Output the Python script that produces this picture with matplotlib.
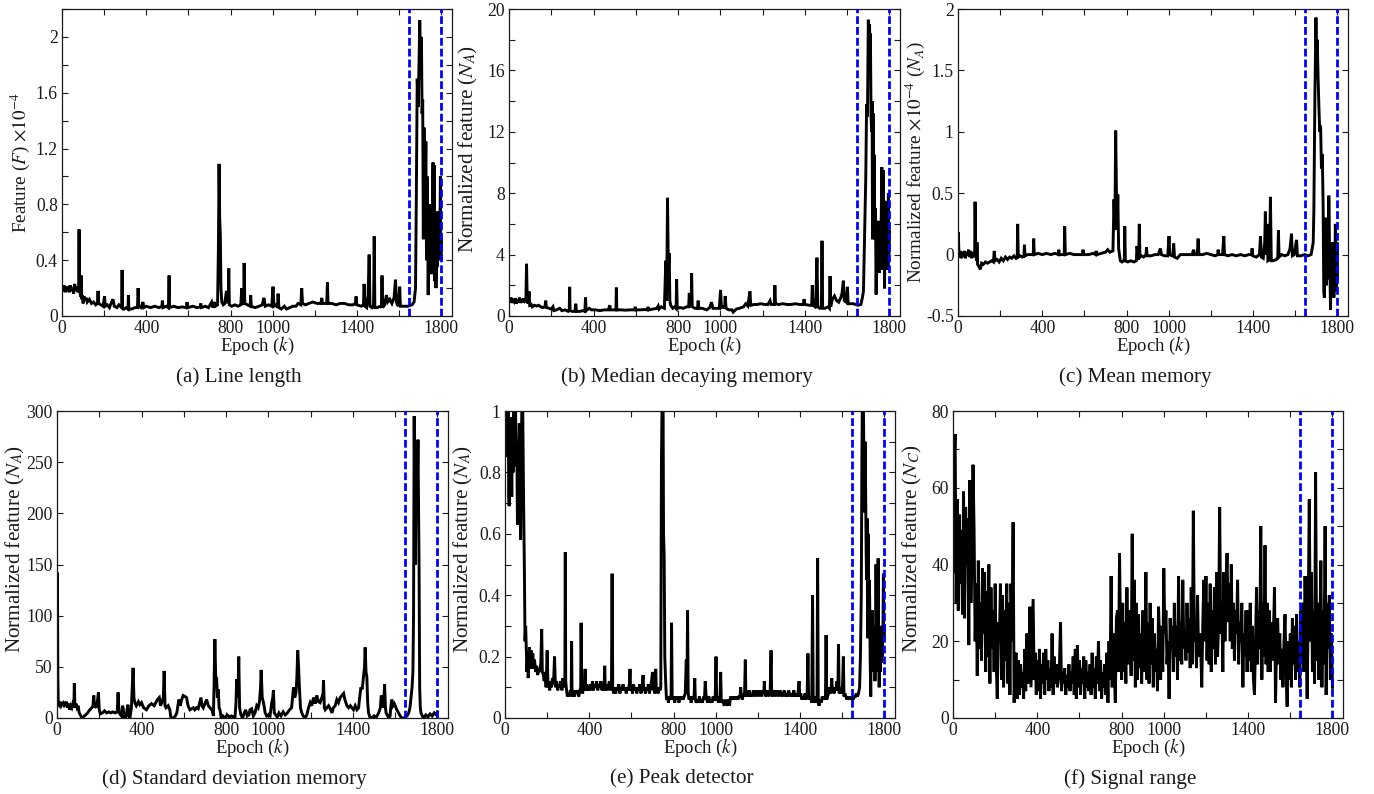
import numpy as np
import matplotlib
matplotlib.use("Agg")
import matplotlib.pyplot as plt

plt.rcParams['font.family'] = ['Liberation Serif', 'DejaVu Serif']
plt.rcParams['mathtext.fontset'] = 'stix'

# ---------------- data (epoch, value) ----------------
onset_epochs = [1645, 1800]

line_length = [
 (0,0.21),(5,0.18),(10,0.22),(15,0.17),(20,0.21),(25,0.19),(30,0.2),(35,0.17),(40,0.22),(45,0.18),
 (50,0.2),(55,0.16),(60,0.23),(65,0.18),(70,0.21),(75,0.17),(79,0.2),(81,0.62),(83,0.2),(88,0.14),
 (91,0.29),(93,0.12),(97,0.15),(100,0.09),(105,0.14),(110,0.11),(115,0.13),(120,0.1),(130,0.12),(140,0.09),
 (150,0.1),(160,0.08),(168,0.09),(171,0.18),(174,0.09),(185,0.08),(195,0.07),(202,0.14),(205,0.07),(215,0.08),
 (225,0.06),(235,0.1),(242,0.12),(248,0.07),(260,0.06),(270,0.08),(283,0.06),(285,0.33),(287,0.06),(295,0.05),
 (305,0.06),(313,0.05),(315,0.15),(317,0.05),(330,0.05),(345,0.06),(358,0.06),(361,0.2),(364,0.07),(375,0.06),
 (384,0.1),(388,0.06),(400,0.07),(420,0.06),(440,0.07),(460,0.06),(474,0.07),(476,0.11),(479,0.06),(495,0.07),
 (505,0.06),(508,0.29),(510,0.06),(530,0.07),(550,0.06),(570,0.065),(591,0.06),(593,0.1),(596,0.06),(620,0.07),
 (640,0.06),(656,0.065),(658,0.09),(661,0.06),(680,0.07),(695,0.06),(710,0.1),(716,0.06),(722,0.1),(728,0.07),
 (738,0.08),(742,0.5),(745,1.09),(748,0.7),(751,0.58),(754,0.2),(758,0.1),(765,0.08),(772,0.09),(780,0.18),
 (784,0.1),(789,0.1),(791,0.34),(794,0.08),(805,0.07),(820,0.08),(835,0.07),(848,0.08),(853,0.2),(857,0.08),
 (862,0.1),(864,0.38),(867,0.09),(880,0.08),(893,0.07),(895,0.15),(898,0.07),(915,0.06),(935,0.07),(950,0.08),
 (958,0.13),(964,0.07),(980,0.08),(995,0.07),(1001,0.21),(1005,0.07),(1015,0.08),(1022,0.06),(1025,0.16),(1029,0.06),
 (1040,0.05),(1055,0.07),(1065,0.05),(1080,0.06),(1095,0.07),(1110,0.07),(1120,0.09),(1133,0.08),(1137,0.2),(1141,0.09),
 (1155,0.08),(1170,0.09),(1190,0.1),(1210,0.09),(1228,0.09),(1232,0.13),(1236,0.09),(1250,0.09),(1256,0.09),(1259,0.24),
 (1262,0.09),(1280,0.09),(1300,0.08),(1320,0.09),(1340,0.09),(1360,0.08),(1380,0.08),(1392,0.09),(1395,0.14),(1398,0.08),
 (1420,0.07),(1430,0.08),(1433,0.23),(1437,0.07),(1445,0.06),(1452,0.15),(1457,0.44),(1461,0.07),(1470,0.06),(1478,0.08),
 (1481,0.57),(1484,0.06),(1495,0.06),(1510,0.07),(1515,0.06),(1518,0.29),(1521,0.06),(1530,0.08),(1539,0.15),(1545,0.1),
 (1555,0.12),(1565,0.09),(1575,0.13),(1582,0.26),(1586,0.1),(1595,0.07),(1602,0.21),(1605,0.07),(1620,0.07),(1640,0.07),
 (1660,0.08),(1670,0.1),(1677,0.2),(1681,0.9),(1685,1.7),(1690,1.5),(1697,2.12),(1700,1.9),(1705,2.0),(1708,1.45),
 (1711,1.55),(1714,0.55),(1717,1.35),(1720,1.2),(1723,0.9),(1726,1.25),(1729,0.4),(1732,1.0),(1735,0.6),(1737,0.15),
 (1740,0.6),(1743,0.3),(1746,0.8),(1749,0.35),(1752,0.75),(1755,0.3),(1758,0.9),(1760,1.1),(1763,0.4),(1766,1.08),
 (1769,0.25),(1772,0.7),(1774,0.2),(1777,0.6),(1780,0.35),(1783,0.75),(1786,0.4),(1789,0.65),(1792,0.5),(1795,1.0),
 (1797,0.4),(1800,0.55),
]

median_decaying = [
 (0,1.1),(5,0.9),(10,1.2),(15,0.85),(20,1.1),(25,0.95),(30,1.15),(35,0.8),(40,1.05),(45,0.9),
 (50,1.2),(55,0.85),(60,1.1),(65,0.9),(70,1.15),(75,0.95),(80,1.0),(83,3.4),(86,1.2),(90,0.8),
 (95,1.6),(98,0.7),(105,0.75),(110,0.6),(120,0.7),(130,0.65),(140,0.7),(150,0.6),(160,0.55),(170,0.6),
 (174,1.0),(177,0.55),(190,0.5),(200,0.45),(208,0.6),(212,0.35),(225,0.4),(240,0.5),(250,0.35),(265,0.4),
 (280,0.3),(285,0.35),(287,1.9),(289,0.35),(300,0.3),(312,0.3),(316,0.8),(319,0.3),(335,0.3),(350,0.35),
 (359,0.3),(362,1.2),(365,0.35),(380,0.5),(390,0.4),(410,0.4),(430,0.35),(450,0.4),(470,0.4),(477,0.7),
 (480,0.4),(495,0.4),(506,0.4),(508,1.85),(510,0.4),(530,0.4),(550,0.38),(575,0.4),(595,0.4),(597,0.6),
 (600,0.4),(620,0.4),(640,0.42),(656,0.4),(658,0.6),(661,0.4),(680,0.45),(700,0.5),(706,0.65),(710,0.45),
 (720,0.6),(735,0.5),(742,3.6),(746,1.0),(750,7.7),(754,3.0),(758,4.1),(761,1.0),(765,0.7),(775,0.5),
 (785,0.6),(791,0.5),(793,2.4),(796,0.5),(810,0.55),(825,0.5),(840,0.6),(850,0.6),(853,1.5),(857,0.6),
 (862,0.7),(864,2.8),(867,0.6),(880,0.5),(892,0.5),(895,1.0),(898,0.5),(915,0.5),(935,0.4),(950,0.55),
 (958,0.9),(965,0.5),(980,0.5),(995,0.5),(1001,1.7),(1005,0.55),(1015,0.6),(1020,0.5),(1023,1.3),(1027,0.5),
 (1040,0.4),(1055,0.4),(1061,0.25),(1075,0.45),(1090,0.5),(1110,0.6),(1120,0.8),(1130,0.65),(1140,1.6),(1144,0.7),
 (1160,0.75),(1175,0.75),(1190,0.8),(1210,0.75),(1225,0.75),(1235,1.0),(1240,0.75),(1255,0.75),(1258,2.0),(1261,0.8),
 (1275,0.75),(1295,0.8),(1315,0.75),(1335,0.75),(1355,0.8),(1375,0.75),(1393,0.75),(1396,1.1),(1400,0.75),(1420,0.7),
 (1432,0.7),(1435,2.0),(1438,0.7),(1448,0.6),(1452,1.2),(1457,3.8),(1461,0.6),(1470,0.5),(1478,0.6),(1481,4.9),
 (1484,0.5),(1495,0.5),(1510,0.6),(1516,0.5),(1519,2.6),(1522,0.6),(1530,1.1),(1540,1.3),(1550,1.0),(1560,0.9),
 (1570,1.2),(1576,1.5),(1582,2.3),(1586,1.0),(1595,0.9),(1601,1.9),(1605,0.8),(1615,0.8),(1630,0.8),(1650,0.7),
 (1665,0.75),(1672,1.2),(1677,1.6),(1682,5.0),(1688,9.0),(1692,13.8),(1696,13.0),(1700,19.3),(1703,18.0),(1706,19.0),
 (1708,16.0),(1710,18.4),(1713,13.0),(1716,12.0),(1718,14.0),(1720,5.0),(1723,13.2),(1726,8.0),(1728,10.5),(1731,5.0),
 (1734,7.0),(1737,1.4),(1740,5.0),(1743,6.0),(1746,3.0),(1749,6.2),(1752,2.8),(1755,4.5),(1758,3.0),(1761,6.0),
 (1764,9.7),(1767,3.0),(1770,9.5),(1772,3.0),(1775,5.5),(1777,1.8),(1780,7.5),(1783,3.5),(1786,5.0),(1788,3.2),
 (1791,5.5),(1793,3.0),(1795,8.0),(1797,4.0),(1800,5.5),
]

mean_memory = [
 (0,0.0),(2,0.18),(4,0.02),(6,-0.02),(10,0.03),(15,-0.03),(20,0.02),(25,-0.02),(30,0.03),(35,-0.03),(40,0.02),
 (45,-0.01),(50,0.04),(55,-0.02),(60,0.03),(65,-0.03),(70,0.02),(75,-0.02),(79,0.0),(81,0.43),(84,0.02),
 (88,-0.05),(90,0.1),(93,-0.08),(100,-0.1),(106,-0.12),(112,-0.07),(120,-0.08),(130,-0.06),(140,-0.07),(150,-0.06),
 (160,-0.05),(168,-0.06),(172,0.03),(176,-0.05),(185,-0.04),(195,-0.06),(205,-0.03),(215,-0.05),(225,-0.02),(235,-0.04),
 (245,-0.02),(255,-0.03),(265,-0.01),(275,-0.03),(281,-0.02),(283,0.25),(286,-0.02),(295,-0.01),(305,-0.02),(313,-0.01),
 (315,0.08),(318,-0.01),(330,0.0),(345,0.0),(357,0.0),(359,0.13),(362,0.0),(380,0.01),(400,0.0),(420,0.01),
 (440,0.0),(460,0.01),(476,0.0),(478,0.04),(481,0.0),(495,0.0),(504,0.0),(506,0.23),(509,0.0),(530,0.01),
 (550,0.0),(570,0.0),(591,0.0),(593,0.04),(596,0.0),(620,0.0),(640,0.01),(653,0.0),(655,0.03),(658,0.0),
 (680,0.01),(700,0.02),(710,0.04),(720,0.02),(735,0.03),(740,0.45),(744,0.2),(748,1.01),(752,0.45),(755,0.2),
 (758,0.49),(762,0.05),(770,-0.05),(778,-0.06),(785,-0.05),(789,-0.05),(791,0.23),(794,-0.05),(805,-0.06),(820,-0.05),
 (835,-0.06),(846,-0.05),(849,0.07),(853,0.0),(857,-0.04),(860,0.25),(863,-0.02),(870,-0.01),(880,-0.02),(892,0.0),
 (894,0.06),(897,-0.01),(915,-0.01),(935,0.0),(950,0.0),(960,0.05),(965,0.0),(980,-0.01),(995,-0.01),(1001,0.15),
 (1005,0.0),(1015,-0.01),(1020,0.0),(1023,0.09),(1027,-0.02),(1040,-0.03),(1055,0.0),(1070,0.0),(1090,0.0),(1110,0.0),
 (1118,0.04),(1122,0.0),(1135,0.0),(1139,0.13),(1143,0.0),(1160,0.0),(1180,0.01),(1200,0.0),(1220,-0.01),(1232,0.0),
 (1234,0.04),(1237,0.0),(1255,0.0),(1261,0.15),(1264,0.0),(1280,-0.01),(1300,0.0),(1320,-0.01),(1340,0.0),(1360,-0.01),
 (1380,0.0),(1393,0.0),(1395,0.05),(1398,-0.01),(1415,-0.02),(1430,0.0),(1435,0.15),(1439,-0.02),(1448,-0.03),(1455,0.1),
 (1458,0.35),(1462,0.0),(1466,0.25),(1470,-0.05),(1478,-0.04),(1482,0.47),(1486,-0.05),(1495,-0.05),(1510,-0.04),(1517,-0.02),
 (1520,0.2),(1523,-0.02),(1535,0.0),(1550,-0.01),(1565,0.0),(1575,0.05),(1582,0.17),(1586,-0.01),(1595,0.0),(1606,0.12),
 (1610,-0.01),(1625,-0.01),(1645,0.0),(1660,-0.01),(1675,0.0),(1680,0.05),(1685,0.1),(1688,0.35),(1693,1.3),(1698,1.93),
 (1701,1.6),(1704,1.75),(1708,1.45),(1712,1.2),(1716,1.0),(1720,1.05),(1724,0.7),(1728,0.82),(1732,0.4),(1735,-0.3),
 (1738,-0.35),(1741,0.05),(1743,0.3),(1746,-0.1),(1748,-0.25),(1751,0.0),(1755,0.1),(1757,-0.2),(1759,0.48),(1762,0.0),
 (1765,-0.2),(1767,-0.45),(1770,-0.1),(1773,-0.3),(1775,0.1),(1778,-0.25),(1781,-0.1),(1783,-0.35),(1786,0.0),(1788,-0.2),
 (1790,0.25),(1793,-0.1),(1795,-0.3),(1798,0.1),(1800,-0.2),
]

std_memory = [
 (0,40),(2,142),(4,40),(6,15),(10,13),(15,16),(20,12),(25,14),(30,15),(35,12),(40,13),
 (45,16),(50,10),(55,14),(60,8),(65,12),(70,10),(75,14),(80,12),(82,34),(85,10),
 (90,14),(95,10),(100,12),(105,5),(110,3),(118,0),(125,1),(135,3),(145,5),(155,8),
 (165,10),(170,12),(174,22),(178,10),(182,12),(186,10),(190,14),(196,25),(200,8),(205,4),
 (215,5),(225,7),(235,5),(245,6),(255,5),(265,6),(275,5),(285,6),(289,25),(293,6),
 (297,4),(305,2),(310,12),(313,10),(317,0),(325,0),(333,10),(336,13),(340,2),(345,0),
 (352,10),(360,49),(364,20),(368,15),(375,12),(385,16),(392,13),(400,15),(410,10),(423,8),
 (435,12),(447,14),(460,12),(475,18),(484,20),(490,12),(496,15),(503,20),(507,46),(511,12),
 (516,10),(526,12),(534,8),(539,0),(550,0),(560,2),(567,5),(572,12),(577,18),(583,12),
 (590,18),(597,22),(605,21),(613,20),(620,12),(629,8),(637,9),(645,10),(652,8),(660,10),
 (668,9),(675,15),(681,20),(686,12),(692,10),(700,14),(708,18),(716,12),(724,10),(733,8),
 (740,2),(743,30),(747,77),(751,38),(755,40),(759,20),(763,28),(767,10),(771,8),(777,0),
 (785,2),(795,0),(805,3),(815,1),(825,2),(835,1),(842,0),(847,15),(850,38),(856,20),
 (860,60),(864,10),(870,3),(878,0),(886,5),(893,8),(900,2),(908,3),(913,8),(921,9),
 (929,2),(937,5),(945,12),(952,10),(958,16),(963,30),(966,47),(971,20),(977,15),(985,5),
 (992,2),(1000,3),(1008,2),(1016,15),(1021,20),(1024,27),(1028,5),(1035,3),(1042,1),(1050,5),
 (1060,2),(1070,6),(1080,3),(1090,5),(1100,8),(1110,10),(1119,30),(1125,20),(1131,25),(1135,40),
 (1139,66),(1143,50),(1147,30),(1152,10),(1158,5),(1165,2),(1174,0),(1182,3),(1190,10),(1198,15),
 (1205,12),(1214,20),(1222,14),(1229,22),(1237,16),(1245,15),(1253,20),(1258,18),(1261,37),(1265,10),
 (1269,8),(1277,10),(1285,12),(1293,9),(1301,5),(1308,10),(1316,12),(1324,18),(1332,15),(1340,20),
 (1348,22),(1356,24),(1362,18),(1372,12),(1380,10),(1388,12),(1395,10),(1403,8),(1411,12),(1419,8),
 (1427,10),(1432,20),(1438,30),(1444,28),(1450,40),(1455,50),(1458,69),(1462,45),(1466,40),(1470,15),
 (1474,5),(1482,0),(1490,0),(1500,2),(1508,0),(1514,2),(1522,5),(1530,10),(1534,22),(1540,18),
 (1545,10),(1550,33),(1554,10),(1557,5),(1565,2),(1571,0),(1576,2),(1580,12),(1584,18),(1590,12),
 (1596,14),(1600,12),(1608,8),(1616,5),(1624,2),(1632,0),(1640,0),(1648,1),(1656,2),(1664,5),
 (1670,10),(1675,20),(1680,30),(1684,45),(1687,100),(1690,295),(1693,200),(1696,150),(1698,230),(1700,250),
 (1703,200),(1706,240),(1708,272),(1711,200),(1713,150),(1716,30),(1719,10),(1722,5),(1728,2),(1735,0),
 (1745,3),(1755,1),(1765,4),(1775,2),(1785,5),(1795,3),(1800,6),
]

peak_detector = [
 (0,1.0),(5,0.92),(8,1.02),(12,0.85),(15,1.02),(18,0.72),(20,0.69),(23,0.95),(26,0.75),(29,0.98),
 (32,0.72),(35,0.96),(38,0.8),(41,1.02),(44,0.88),(47,0.98),(50,1.02),(53,0.82),(56,0.9),(59,0.63),
 (62,0.75),(65,0.87),(68,0.96),(71,0.7),(74,0.58),(77,0.85),(80,1.02),(84,1.02),(88,0.72),(92,0.48),
 (95,0.25),(98,0.3),(101,0.22),(104,0.15),(107,0.2),(110,0.13),(113,0.18),(116,0.23),(120,0.16),(124,0.22),
 (128,0.18),(132,0.21),(136,0.16),(140,0.19),(145,0.15),(150,0.17),(155,0.14),(160,0.16),(165,0.15),(170,0.18),
 (174,0.29),(177,0.15),(182,0.14),(186,0.12),(190,0.15),(195,0.1),(200,0.22),(204,0.1),(208,0.12),(212,0.09),
 (216,0.12),(220,0.1),(225,0.13),(230,0.11),(235,0.2),(239,0.1),(245,0.12),(250,0.09),(255,0.11),(260,0.1),
 (265,0.12),(270,0.09),(275,0.13),(280,0.1),(284,0.12),(286,0.54),(288,0.12),(292,0.09),(296,0.07),(300,0.08),
 (305,0.07),(310,0.09),(314,0.08),(316,0.25),(318,0.07),(325,0.08),(330,0.07),(335,0.09),(340,0.08),(345,0.09),
 (350,0.07),(355,0.09),(359,0.1),(361,0.31),(364,0.1),(368,0.08),(372,0.1),(376,0.09),(380,0.16),(383,0.09),
 (388,0.11),(392,0.09),(396,0.1),(400,0.09),(405,0.11),(410,0.09),(415,0.12),(420,0.09),(425,0.11),(430,0.1),
 (435,0.12),(440,0.09),(445,0.11),(450,0.1),(455,0.12),(460,0.09),(465,0.11),(470,0.09),(473,0.17),(476,0.09),
 (480,0.11),(485,0.09),(490,0.1),(495,0.12),(500,0.09),(505,0.1),(508,0.47),(511,0.1),(515,0.08),(520,0.1),
 (525,0.08),(530,0.1),(535,0.09),(540,0.11),(545,0.08),(550,0.1),(555,0.09),(560,0.11),(565,0.09),(570,0.1),
 (575,0.08),(580,0.1),(585,0.09),(590,0.11),(593,0.16),(596,0.09),(600,0.1),(605,0.08),(610,0.11),(615,0.09),
 (620,0.1),(625,0.08),(630,0.1),(635,0.09),(640,0.11),(645,0.08),(650,0.1),(655,0.14),(658,0.09),(662,0.1),
 (666,0.08),(670,0.1),(675,0.09),(680,0.11),(685,0.08),(690,0.1),(695,0.12),(700,0.15),(703,0.09),(707,0.1),
 (711,0.08),(715,0.16),(718,0.09),(722,0.1),(726,0.08),(730,0.1),(735,0.09),(739,0.1),(742,0.83),(745,1.02),
 (750,1.02),(752,0.6),(755,0.53),(758,0.2),(762,0.12),(766,0.06),(770,0.07),(775,0.05),(780,0.07),(785,0.06),
 (788,0.08),(790,0.31),(793,0.07),(797,0.06),(800,0.07),(805,0.05),(810,0.07),(815,0.06),(820,0.07),(825,0.05),
 (830,0.07),(835,0.06),(840,0.07),(845,0.06),(850,0.07),(855,0.08),(860,0.19),(863,0.08),(866,0.35),(869,0.08),
 (873,0.06),(878,0.07),(883,0.05),(888,0.07),(893,0.06),(897,0.07),(900,0.13),(903,0.06),(907,0.05),(912,0.06),
 (917,0.05),(922,0.07),(927,0.05),(932,0.06),(937,0.05),(942,0.07),(946,0.06),(950,0.12),(953,0.08),(957,0.06),
 (962,0.05),(967,0.07),(972,0.05),(977,0.06),(982,0.05),(987,0.07),(992,0.06),(997,0.06),(1001,0.2),(1004,0.06),
 (1008,0.07),(1012,0.05),(1016,0.06),(1020,0.07),(1023,0.15),(1026,0.05),(1030,0.06),(1035,0.05),(1040,0.04),(1045,0.06),
 (1050,0.05),(1055,0.04),(1060,0.06),(1065,0.04),(1070,0.07),(1075,0.06),(1080,0.07),(1085,0.06),(1090,0.07),(1095,0.06),
 (1100,0.07),(1105,0.06),(1110,0.07),(1115,0.07),(1118,0.1),(1121,0.07),(1126,0.06),(1131,0.08),(1136,0.07),(1140,0.19),
 (1143,0.07),(1148,0.08),(1153,0.07),(1158,0.09),(1163,0.07),(1168,0.08),(1173,0.07),(1178,0.09),(1183,0.08),(1188,0.07),
 (1193,0.09),(1198,0.08),(1203,0.07),(1208,0.09),(1213,0.08),(1218,0.07),(1223,0.09),(1228,0.08),(1230,0.12),(1233,0.08),
 (1238,0.07),(1243,0.09),(1248,0.08),(1253,0.07),(1258,0.09),(1262,0.22),(1265,0.08),(1270,0.07),(1275,0.09),(1280,0.08),
 (1285,0.07),(1290,0.09),(1295,0.08),(1300,0.07),(1305,0.09),(1310,0.08),(1315,0.07),(1320,0.08),(1325,0.09),(1330,0.07),
 (1335,0.08),(1340,0.07),(1345,0.09),(1350,0.08),(1355,0.07),(1360,0.08),(1365,0.07),(1370,0.09),(1375,0.07),(1380,0.08),
 (1385,0.07),(1390,0.08),(1395,0.12),(1398,0.07),(1403,0.08),(1408,0.06),(1413,0.07),(1418,0.06),(1423,0.08),(1428,0.06),
 (1433,0.07),(1437,0.21),(1440,0.07),(1445,0.06),(1450,0.07),(1455,0.05),(1459,0.4),(1462,0.06),(1466,0.05),(1470,0.07),
 (1475,0.05),(1480,0.06),(1483,0.52),(1486,0.05),(1490,0.04),(1495,0.06),(1500,0.05),(1505,0.07),(1510,0.06),(1515,0.07),
 (1520,0.06),(1523,0.27),(1526,0.06),(1530,0.07),(1535,0.08),(1540,0.1),(1545,0.08),(1550,0.13),(1553,0.09),(1557,0.1),
 (1561,0.08),(1565,0.1),(1570,0.09),(1575,0.12),(1579,0.09),(1582,0.24),(1585,0.08),(1590,0.09),(1595,0.1),(1600,0.08),
 (1605,0.2),(1608,0.07),(1612,0.08),(1617,0.07),(1622,0.06),(1627,0.07),(1632,0.06),(1637,0.07),(1642,0.06),(1647,0.07),
 (1652,0.06),(1657,0.07),(1662,0.07),(1667,0.08),(1672,0.07),(1677,0.08),(1682,0.1),(1686,0.2),(1690,0.4),(1693,0.85),
 (1695,1.02),(1700,1.02),(1703,0.8),(1705,0.67),(1708,0.9),(1710,0.8),(1713,0.55),(1715,0.45),(1718,0.65),(1720,0.26),
 (1723,0.6),(1726,0.35),(1728,0.45),(1730,0.38),(1732,0.2),(1735,0.07),(1738,0.35),(1740,0.2),(1743,0.35),(1745,0.15),
 (1748,0.3),(1750,0.18),(1753,0.28),(1755,0.12),(1758,0.25),(1760,0.5),(1763,0.2),(1766,0.3),(1768,0.15),(1770,0.52),
 (1773,0.2),(1775,0.1),(1778,0.25),(1780,0.15),(1783,0.3),(1785,0.18),(1788,0.28),(1790,0.2),(1793,0.3),(1795,0.47),
 (1797,0.25),(1800,0.3),
]

# signal range: one value every 5 epochs (rows of 100 epochs)
signal_range = [
 38, 66, 74, 30, 57, 28, 53, 35, 49, 27, 59, 26, 55, 40, 52, 19, 62, 30, 45, 66,
 49, 20, 35, 11, 41, 18, 30, 15, 39, 22, 38, 12, 33, 16, 40, 9, 34, 18, 28, 12,
 35, 14, 5, 25, 20, 35, 10, 32, 8, 28, 15, 35, 9, 30, 6, 35, 20, 51, 4, 16,
 17, 5, 15, 6, 14, 8, 12, 5, 18, 7, 22, 9, 16, 29, 8, 20, 31, 10, 17, 6,
 15, 7, 18, 5, 14, 9, 17, 6, 18, 10, 15, 7, 13, 8, 22, 6, 16, 9, 14, 8,
 10, 14, 25, 7, 12, 9, 13, 6, 11, 8, 14, 7, 12, 9, 16, 6, 18, 5, 19, 8,
 15, 6, 13, 9, 16, 5, 15, 8, 12, 7, 14, 6, 17, 8, 13, 5, 16, 9, 20, 7,
 15, 5, 12, 8, 14, 6, 17, 4, 20, 10, 37, 8, 22, 12, 4, 26, 28, 12, 43, 20,
 10, 30, 12, 25, 9, 34, 14, 28, 22, 11, 48, 15, 36, 8, 30, 10, 27, 13, 22, 9,
 28, 15, 12, 38, 10, 25, 9, 30, 14, 26, 8, 22, 12, 18, 7, 29, 20, 10, 24, 12,
 39, 22, 28, 14, 20, 5, 26, 18, 24, 12, 30, 16, 24, 10, 37, 15, 25, 14, 36, 18,
 22, 15, 30, 17, 26, 13, 34, 14, 54, 20, 25, 13, 32, 16, 22, 18, 8, 25, 36, 20,
 37, 15, 30, 14, 35, 12, 28, 18, 34, 14, 38, 16, 25, 55, 22, 30, 12, 38, 20, 33,
 43, 25, 35, 20, 40, 18, 30, 15, 28, 22, 36, 14, 25, 20, 30, 8, 22, 16, 28, 12,
 28, 15, 30, 12, 24, 10, 6, 20, 34, 14, 28, 18, 50, 10, 30, 16, 45, 14, 30, 12,
 28, 12, 25, 15, 22, 34, 4, 20, 26, 14, 22, 10, 18, 8, 20, 27, 12, 3, 20, 10,
 22, 8, 26, 14, 24, 10, 27, 12, 20, 8, 28, 16, 30, 12, 37, 20, 5, 28, 57, 20,
 38, 12, 28, 9, 64, 15, 30, 10, 22, 41, 8, 28, 14, 50, 6, 30, 18, 32, 10, 22,
 8,
]
signal_range_step = 5

# ---------------- panels ----------------
x_ticks = [0, 200, 400, 600, 800, 1000, 1200, 1400, 1600, 1800]
x_labels = ['0', '', '400', '', '800', '1000', '', '1400', '', '1800']

panels = [
    dict(data=line_length, ylim=(0, 2.2),
         yticks=[0, 0.2, 0.4, 0.6, 0.8, 1.0, 1.2, 1.4, 1.6, 1.8, 2.0, 2.2],
         ylabels=['0', '', '0.4', '', '0.8', '', '1.2', '', '1.6', '', '2', ''],
         ylabel=r'Feature ($F$) $\times10^{-4}$', caption='(a) Line length',
         box=(62, 9, 452, 316), ylab_x=20, ylab_fs=13.8, ylab_bottom=None),
    dict(data=median_decaying, ylim=(0, 20),
         yticks=list(range(0, 21, 2)),
         ylabels=['0', '', '4', '', '8', '', '12', '', '16', '', '20'],
         ylabel=r'Normalized feature ($N_A$)', caption='(b) Median decaying memory',
         box=(509, 9, 900, 316), ylab_x=468, ylab_fs=15.2, ylab_bottom=63),
    dict(data=mean_memory, ylim=(-0.5, 2),
         yticks=[-0.5, 0, 0.5, 1, 1.5, 2],
         ylabels=['-0.5', '0', '0.5', '1', '1.5', '2'],
         ylabel=r'Normalized feature $\times10^{-4}$ ($N_A$)', caption='(c) Mean memory',
         box=(958, 9, 1348, 316), ylab_x=915, ylab_fs=13.8, ylab_bottom=None),
    dict(data=std_memory, ylim=(0, 300),
         yticks=list(range(0, 301, 50)),
         ylabels=['0', '50', '100', '150', '200', '250', '300'],
         ylabel=r'Normalized feature ($N_A$)', caption='(d) Standard deviation memory',
         box=(57, 411, 448, 718), ylab_x=15, ylab_fs=15.2, ylab_bottom=65),
    dict(data=peak_detector, ylim=(0, 1),
         yticks=[0, 0.1, 0.2, 0.3, 0.4, 0.5, 0.6, 0.7, 0.8, 0.9, 1.0],
         ylabels=['0', '', '0.2', '', '0.4', '', '0.6', '', '0.8', '', '1'],
         ylabel=r'Normalized feature ($N_A$)', caption='(e) Peak detector',
         box=(505, 411, 895, 718), ylab_x=463, ylab_fs=15.2, ylab_bottom=65),
    dict(data=None, ylim=(0, 80),
         yticks=list(range(0, 81, 10)),
         ylabels=['0', '', '20', '', '40', '', '60', '', '80'],
         ylabel=r'Normalized feature ($N_C$)', caption='(f) Signal range',
         box=(953, 411, 1343, 718), ylab_x=912, ylab_fs=15.2, ylab_bottom=65),
]

W, H = 1374, 794
fig = plt.figure(figsize=(W / 100, H / 100), dpi=100)
txt = '#1a1a1a'

for p in panels:
    l, t, r, b = p['box']
    ax = fig.add_axes([l / W, 1 - b / H, (r - l) / W, (b - t) / H])
    if p['data'] is None:
        y = np.array(signal_range, dtype=float)
        x = np.arange(len(y)) * signal_range_step
    else:
        x = np.array([d[0] for d in p['data']], dtype=float)
        y = np.array([d[1] for d in p['data']], dtype=float)
    ax.plot(x, y, color='black', lw=2.1, solid_joinstyle='miter', zorder=2)
    for e in onset_epochs:
        ax.axvline(e, color='#0000ff', lw=2.0, ls=(0, (2.8, 1.1)), zorder=3)
    ax.set_xlim(0, 1850)
    ax.set_ylim(*p['ylim'])
    ax.set_xticks(x_ticks)
    ax.set_xticklabels(x_labels)
    ax.set_yticks(p['yticks'])
    ax.set_yticklabels(p['ylabels'])
    ax.tick_params(direction='in', length=4.5, width=0.8, top=True, right=True,
                   labelsize=12.7, pad=3, colors=txt, labelcolor=txt)
    for s in ax.spines.values():
        s.set_linewidth(0.9)
        s.set_color(txt)
    w_ax = r - l
    h_ax = b - t
    ax.set_xlabel(r'Epoch ($k$)', fontsize=13.5, color=txt, va='center')
    ax.xaxis.set_label_coords(0.5, -(748 - 718) / h_ax)
    if p['ylab_bottom'] is None:
        ax.set_ylabel(p['ylabel'], fontsize=p['ylab_fs'], color=txt, va='center',
                      ha='center', rotation_mode='anchor')
        ax.yaxis.set_label_coords((p['ylab_x'] - l) / w_ax, 0.5)
    else:
        ax.set_ylabel(p['ylabel'], fontsize=p['ylab_fs'], color=txt, va='center',
                      ha='left', rotation_mode='anchor')
        ax.yaxis.set_label_coords((p['ylab_x'] - l) / w_ax, p['ylab_bottom'] / h_ax)
    cx = (l + r) / 2 - 18
    cy = b + 61
    fig.text(cx / W, 1 - cy / H, p['caption'], ha='center', va='center',
             fontsize=15.2, color=txt)

fig.savefig('out.png', dpi=100)
